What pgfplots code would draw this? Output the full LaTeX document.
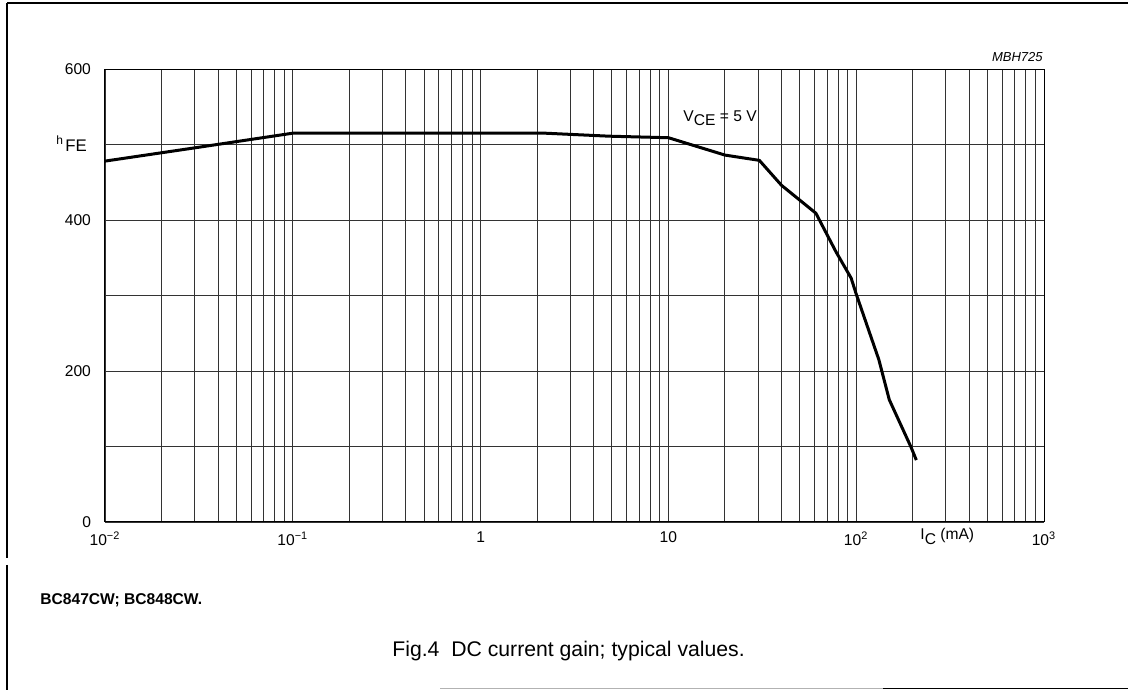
\documentclass[border=0pt]{standalone}
\usepackage{pgfplots}
\pgfplotsset{compat=1.18}
\usepackage{fontspec}
\setmainfont{Liberation Sans}
\begin{document}
\begin{tikzpicture}
\useasboundingbox (0,0) rectangle (564pt,345pt);
% page frame
\draw[line width=0.8pt] (3.5pt,343.5pt) -- (564pt,343.5pt);
\draw[line width=0.8pt] (3.5pt,343.5pt) -- (3.5pt,66pt);
\draw[line width=0.8pt] (3.5pt,62.5pt) -- (3.5pt,0pt);
\draw[line width=0.8pt] (441.5pt,0.8pt) -- (564pt,0.8pt);
\draw[black!30, line width=0.6pt] (220pt,0.8pt) -- (441.5pt,0.8pt);
\begin{axis}[
  at={(52.5pt,84pt)}, anchor=south west,
  scale only axis, width=469.5pt, height=226.5pt,
  xmode=log, xmin=1e-2, xmax=1e3, ymin=0, ymax=600,
  xtick={1e-2,1e-1,1,10,100,1000},
  xticklabels={10\textsuperscript{−2},10\textsuperscript{−1},1,10,10\textsuperscript{2},10\textsuperscript{3}},
  minor xtick={0.02,0.03,0.04,0.05,0.06,0.07,0.08,0.09,0.2,0.3,0.4,0.5,0.6,0.7,0.8,0.9,2,3,4,5,6,7,8,9,20,30,40,50,60,70,80,90,200,300,400,500,600,700,800,900},
  ytick={0,200,400,600}, yticklabels={0,200,400,600},
  minor ytick={100,300,500},
  grid=both,
  major grid style={black!80, line width=0.45pt},
  minor grid style={black!80, line width=0.45pt},
  major tick length=0pt, minor tick length=0pt,
  axis line style={black, line width=0.5pt},
  tick label style={font=\fontsize{7.8}{9}\selectfont},
  xticklabel style={yshift=-1.5pt},
  yticklabel style={xshift=-3.5pt},
  clip=false,
]
\addplot[black, line width=1.5pt, line join=round] coordinates {
(0.01,478) (0.029,495) (0.1,515) (2.2,515) (4.85,511) (10,509)
(20,486) (30.5,479) (40,446) (61,409) (78,358) (94,323) (100,302)
(132,215) (150,162) (196,99) (209,82)
};
\end{axis}
% texts
\node[anchor=base east, inner sep=0, font=\fontsize{6.5}{7}\selectfont\itshape] at (521.5pt,314pt) {MBH725};
\node[anchor=base west, inner sep=0, font=\fontsize{6}{7}\selectfont] at (28pt,272.5pt) {h};
\node[anchor=base west, inner sep=0, font=\fontsize{8.4}{10}\selectfont] at (32.5pt,269pt) {FE};
\node[anchor=base west, inner sep=0, font=\fontsize{7.8}{9}\selectfont] at (341.5pt,284pt) {V\raisebox{-2pt}{CE} = 5 V};
\node[anchor=base west, inner sep=0, font=\fontsize{7.8}{9}\selectfont] at (460pt,75pt) {I\raisebox{-2.5pt}{C} (mA)};
\node[anchor=base west, inner sep=0, font=\fontsize{7.8}{9}\selectfont\bfseries] at (20pt,42.5pt) {BC847CW; BC848CW.};
\node[anchor=base west, inner sep=0, font=\fontsize{10.6}{12}\selectfont] at (196pt,16.5pt) {Fig.4\ \ DC current gain; typical values.};
\end{tikzpicture}
\end{document}
